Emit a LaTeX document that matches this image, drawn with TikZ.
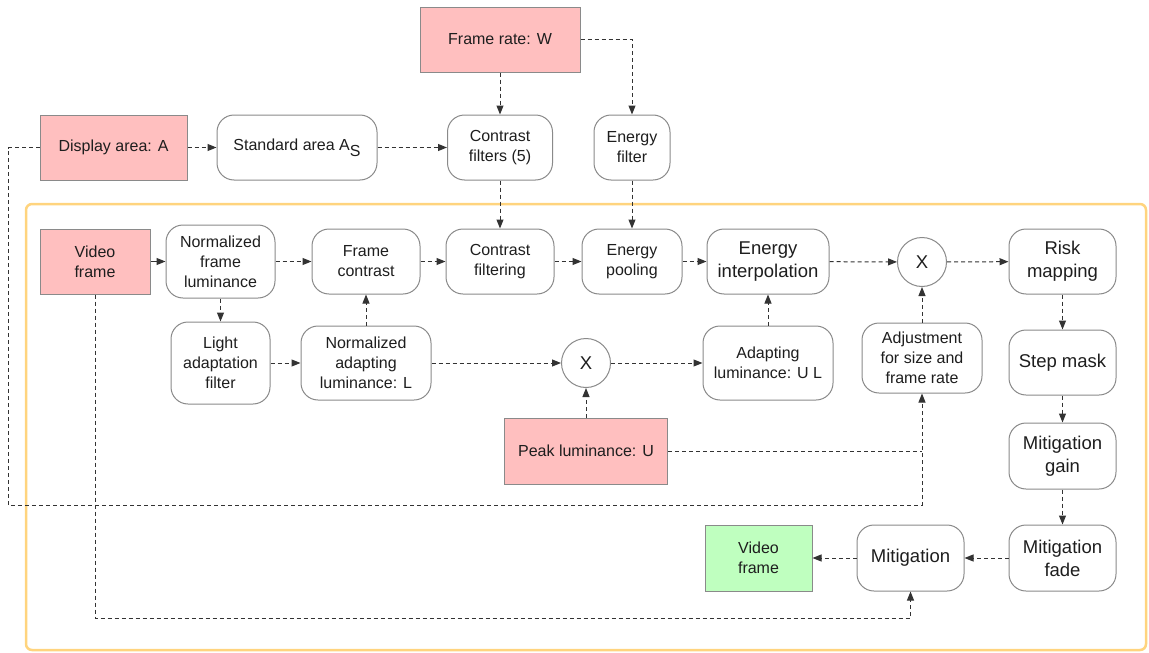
\documentclass[tikz,border=0pt]{standalone}
\usepackage{fontspec}
\setmainfont{Liberation Sans}
\usetikzlibrary{arrows.meta}
\definecolor{boxgray}{HTML}{8A8A8A}
\definecolor{linegray}{HTML}{333333}
\definecolor{pinkfill}{HTML}{FFBFBF}
\definecolor{greenfill}{HTML}{BFFFBF}
\definecolor{orangeline}{HTML}{FFD47E}
\definecolor{txt}{HTML}{1E1E1E}
\newcommand{\smallfs}{\fontsize{16}{20}\selectfont}
\newcommand{\largefs}{\fontsize{18.5}{23}\selectfont}
\begin{document}
\begin{tikzpicture}[x=1pt,y=-1pt,
  rbox/.style={draw=boxgray, line width=1pt, rounded corners=17pt, fill=white, align=center, inner sep=0pt, text=txt, font=\smallfs},
  lbox/.style={rbox, font=\largefs},
  redbox/.style={draw=boxgray, line width=1pt, fill=pinkfill, align=center, inner sep=0pt, text=txt, font=\smallfs},
  greenbox/.style={draw=boxgray, line width=1pt, fill=greenfill, align=center, inner sep=0pt, text=txt, font=\smallfs},
  mult/.style={circle, draw=boxgray, line width=1pt, fill=white, inner sep=0pt, minimum size=49pt, text=txt, font=\largefs},
  conn/.style={draw=linegray, line width=1pt, dash pattern=on 4pt off 3pt, -{Triangle[length=9pt,width=7pt]}},
  solidconn/.style={draw=linegray, line width=1pt, -{Triangle[length=9pt,width=7pt]}},
  plain/.style={draw=linegray, line width=1pt, dash pattern=on 4pt off 3pt}
]
\useasboundingbox (0,0) rectangle (1149,653);
% container
\draw[orangeline, line width=2.5pt, rounded corners=6pt] (26,204) rectangle (1146,650);

% top row
\node[redbox, minimum width=147pt, minimum height=65pt] (disp) at (113.5,147.5) {Display area: A};
\node[rbox, minimum width=160pt, minimum height=65pt] (std) at (297,147.5) {Standard area A\raisebox{-6pt}{S}};
\node[redbox, minimum width=160pt, minimum height=65pt] (fr) at (500,39.5) {Frame rate: W};
\node[rbox, minimum width=105pt, minimum height=65pt] (cf) at (500,147.5) {Contrast\\filters (5)};
\node[rbox, minimum width=76pt, minimum height=65pt] (ef) at (632,147.5) {Energy\\filter};

% main row
\node[redbox, minimum width=110pt, minimum height=65pt] (vf) at (95,261.5) {Video\\frame};
\node[rbox, minimum width=109pt, minimum height=73pt] (nfl) at (220.5,261.5) {Normalized\\frame\\luminance};
\node[rbox, minimum width=108pt, minimum height=65pt] (fc) at (366,261.5) {Frame\\contrast};
\node[rbox, minimum width=108pt, minimum height=65pt] (cfilt) at (500,261.5) {Contrast\\filtering};
\node[rbox, minimum width=100pt, minimum height=65pt] (epool) at (632,261.5) {Energy\\pooling};
\node[lbox, minimum width=122pt, minimum height=65pt] (ei) at (768,261.5) {Energy\\interpolation};
\node[mult] (xtop) at (922,262) {X};
\node[lbox, minimum width=107pt, minimum height=65pt] (risk) at (1062.5,261.5) {Risk\\mapping};

% second row
\node[rbox, minimum width=99pt, minimum height=82pt] (la) at (220.5,363) {Light\\adaptation\\filter};
\node[rbox, minimum width=130pt, minimum height=74pt] (nal) at (366,363) {Normalized\\adapting\\luminance: L};
\node[mult] (xmid) at (586,363) {X};
\node[rbox, minimum width=130pt, minimum height=74pt] (alul) at (768,363) {Adapting\\luminance: U L};
\node[rbox, minimum width=120pt, minimum height=70pt] (adj) at (922,358) {Adjustment\\for size and\\frame rate};
\node[lbox, minimum width=107pt, minimum height=65pt] (step) at (1062.5,362.5) {Step mask};

% lower
\node[redbox, minimum width=163pt, minimum height=66pt] (peak) at (586,451) {Peak luminance: U};
\node[lbox, minimum width=107pt, minimum height=66pt] (gain) at (1062.5,456) {Mitigation\\gain};
\node[lbox, minimum width=107pt, minimum height=66pt] (fade) at (1062.5,558) {Mitigation\\fade};
\node[lbox, minimum width=107pt, minimum height=66pt] (mit) at (910.5,558) {Mitigation};
\node[greenbox, minimum width=107pt, minimum height=66pt] (vfout) at (758.5,558) {Video\\frame};

% helper coordinates
\coordinate (c1) at (8,147.5);
\coordinate (c2) at (8,505);
\coordinate (c3) at (95,618);

% connectors
\draw[conn] (disp) -- (std);
\draw[conn] (std) -- (cf);
\draw[conn] (fr) -- (cf);
\draw[conn] (fr.east) -| (ef.north);
\draw[conn] (cf) -- (cfilt);
\draw[conn] (ef) -- (epool);

\draw[solidconn] (vf) -- (nfl);
\draw[conn] (nfl) -- (fc);
\draw[conn] (fc) -- (cfilt);
\draw[conn] (cfilt) -- (epool);
\draw[conn] (epool) -- (ei);
\draw[conn] (ei) -- (xtop);
\draw[conn] (xtop) -- (risk);

\draw[conn] (nfl) -- (la);
\draw[conn] (la) -- (nal);
\draw[conn] (nal) -- (fc);
\draw[conn] (nal) -- (xmid);
\draw[conn] (xmid) -- (alul);
\draw[conn] (peak) -- (xmid);
\draw[conn] (alul) -- (ei);
\draw[conn] (adj) -- (xtop);

\draw[conn] (risk) -- (step);
\draw[conn] (step) -- (gain);
\draw[conn] (gain) -- (fade);
\draw[conn] (fade) -- (mit);
\draw[conn] (mit) -- (vfout);

\draw[conn] (disp.west) -- (c1) -- (c2) -| (adj.south);
\draw[plain] (peak.east) -- (adj.south |- peak.east);
\draw[conn] (vf.south) -- (c3) -| (mit.south);
\end{tikzpicture}
\end{document}
